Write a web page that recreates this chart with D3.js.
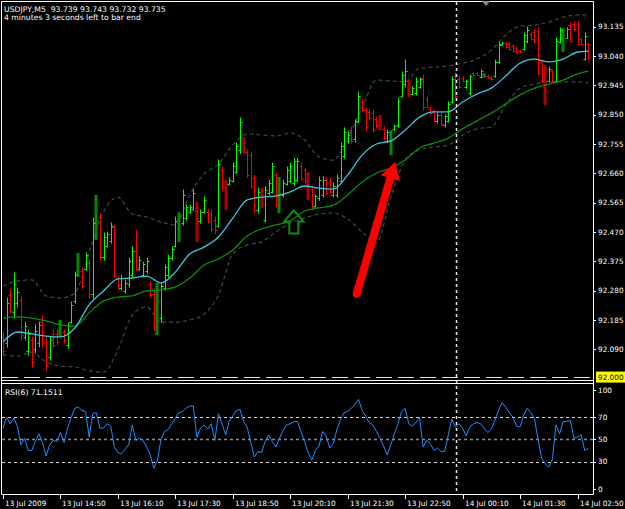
<!DOCTYPE html>
<html>
<head>
<meta charset="utf-8">
<script src="https://cdn.jsdelivr.net/npm/d3@7"></script>
<style>
body{margin:0;background:#000;}
svg{display:block;font-family:"DejaVu Sans",sans-serif;font-size:7.7px;}
.axis text{font-size:7.3px;}
</style>
</head>
<body>
<div id="chart"></div>
<script>
// USDJPY M5 bars, 13 Jul 13:30 -> 14 Jul 03:05
var high = [
92.146,92.256,92.282,92.337,92.288,92.259,92.178,92.152,92.130,92.169,
92.178,92.198,92.130,92.130,92.152,92.152,92.185,92.152,92.175,92.243,
92.340,92.402,92.353,92.402,92.379,92.515,92.590,92.531,92.466,92.470,
92.499,92.492,92.324,92.330,92.314,92.385,92.421,92.476,92.389,92.372,
92.385,92.308,92.282,92.305,92.305,92.363,92.395,92.421,92.518,92.534,
92.606,92.557,92.557,92.606,92.567,92.541,92.583,92.541,92.541,92.518,
92.703,92.680,92.638,92.645,92.693,92.758,92.839,92.778,92.735,92.729,
92.654,92.612,92.612,92.616,92.638,92.693,92.661,92.648,92.638,92.680,
92.693,92.709,92.709,92.693,92.677,92.664,92.616,92.590,92.648,92.648,
92.645,92.645,92.629,92.654,92.758,92.807,92.794,92.810,92.833,92.923,
92.897,92.872,92.865,92.865,92.842,92.849,92.810,92.800,92.800,92.816,
92.904,92.988,93.027,92.962,92.940,92.969,92.969,92.978,92.907,92.875,
92.865,92.855,92.859,92.849,92.891,92.972,92.985,92.972,92.972,92.962,
92.978,92.985,92.985,92.995,92.985,92.978,92.972,93.027,93.085,93.085,
93.085,93.085,93.076,93.069,93.059,93.114,93.134,93.114,93.124,93.131,
93.027,93.011,93.004,92.995,93.098,93.131,93.131,93.131,93.147,93.150,
93.150,93.098,93.114,93.082];
var low = [
92.071,92.097,92.208,92.191,92.227,92.120,92.120,92.071,92.032,92.078,
92.097,92.097,92.023,92.055,92.097,92.104,92.130,92.110,92.094,92.175,
92.240,92.324,92.288,92.346,92.256,92.256,92.444,92.379,92.379,92.421,
92.434,92.324,92.282,92.282,92.272,92.292,92.324,92.346,92.346,92.324,
92.337,92.259,92.152,92.136,92.178,92.282,92.324,92.379,92.421,92.437,
92.492,92.508,92.531,92.541,92.437,92.499,92.531,92.499,92.470,92.466,
92.486,92.606,92.541,92.622,92.632,92.661,92.725,92.725,92.648,92.612,
92.531,92.531,92.547,92.502,92.590,92.596,92.551,92.531,92.583,92.622,
92.629,92.622,92.632,92.638,92.629,92.573,92.541,92.551,92.573,92.583,
92.590,92.596,92.583,92.583,92.629,92.709,92.758,92.758,92.761,92.826,
92.859,92.800,92.833,92.794,92.807,92.800,92.768,92.761,92.719,92.800,
92.810,92.907,92.940,92.907,92.914,92.914,92.936,92.865,92.872,92.849,
92.826,92.823,92.816,92.810,92.826,92.888,92.904,92.936,92.956,92.936,
92.914,92.978,92.978,92.969,92.969,92.969,92.962,92.972,93.017,93.076,
93.066,93.059,93.053,93.050,93.050,93.059,93.082,93.092,93.082,92.978,
92.953,92.881,92.956,92.953,92.956,93.082,93.053,93.098,93.085,93.124,
93.076,93.076,93.027,93.027];
var open = [
92.130,92.110,92.265,92.210,92.240,92.250,92.130,92.085,92.120,92.090,
92.110,92.180,92.115,92.065,92.140,92.140,92.135,92.145,92.105,92.180,
92.245,92.330,92.345,92.350,92.370,92.270,92.460,92.520,92.390,92.425,
92.440,92.485,92.320,92.290,92.280,92.300,92.330,92.410,92.350,92.330,
92.345,92.300,92.270,92.160,92.190,92.290,92.330,92.385,92.425,92.445,
92.500,92.515,92.535,92.545,92.560,92.505,92.535,92.535,92.530,92.510,
92.490,92.670,92.630,92.625,92.635,92.665,92.735,92.775,92.730,92.720,
92.645,92.540,92.605,92.510,92.595,92.600,92.655,92.540,92.590,92.625,
92.635,92.630,92.640,92.685,92.670,92.660,92.610,92.555,92.580,92.590,
92.640,92.635,92.590,92.590,92.635,92.715,92.765,92.800,92.770,92.830,
92.890,92.865,92.860,92.855,92.835,92.845,92.805,92.765,92.725,92.802,
92.815,92.910,92.950,92.955,92.918,92.920,92.940,92.970,92.900,92.870,
92.860,92.828,92.850,92.815,92.830,92.890,92.975,92.965,92.968,92.940,
92.920,92.984,92.984,92.972,92.970,92.976,92.970,92.975,93.020,93.077,
93.082,93.080,93.072,93.066,93.057,93.062,93.090,93.110,93.118,93.120,
93.020,93.005,92.960,92.990,92.960,93.085,93.060,93.100,93.140,93.145,
93.145,93.095,93.030,93.078];
var close = [
92.085,92.240,92.215,92.300,92.275,92.135,92.165,92.140,92.050,92.150,
92.170,92.110,92.040,92.120,92.105,92.115,92.175,92.120,92.165,92.235,
92.330,92.390,92.295,92.395,92.270,92.500,92.570,92.390,92.455,92.465,
92.490,92.330,92.290,92.320,92.305,92.375,92.410,92.355,92.380,92.365,
92.375,92.265,92.165,92.290,92.295,92.355,92.385,92.415,92.505,92.525,
92.590,92.550,92.550,92.595,92.450,92.535,92.575,92.505,92.480,92.475,
92.690,92.615,92.550,92.640,92.685,92.750,92.825,92.730,92.655,92.620,
92.540,92.600,92.555,92.605,92.630,92.685,92.560,92.640,92.630,92.670,
92.685,92.700,92.700,92.645,92.635,92.580,92.550,92.585,92.640,92.640,
92.595,92.600,92.620,92.645,92.750,92.795,92.785,92.765,92.825,92.910,
92.865,92.810,92.840,92.800,92.815,92.805,92.775,92.795,92.795,92.812,
92.895,92.980,92.990,92.915,92.935,92.960,92.965,92.875,92.875,92.855,
92.830,92.850,92.820,92.845,92.885,92.965,92.910,92.940,92.960,92.958,
92.975,92.980,92.979,92.990,92.982,92.971,92.964,93.020,93.080,93.083,
93.068,93.062,93.056,93.053,93.052,93.108,93.125,93.095,93.088,92.985,
92.960,92.890,92.998,92.958,93.090,93.125,93.125,93.128,93.090,93.128,
93.080,93.080,93.105,93.035];
// bars drawn thick in darker colour
var heavyBars = [16,21,26,43,49,54,62,67,72,77,85,105,108,113,134,151,156];

// indicator lines, one value every 4 bars
var lineBars = [0,4,8,12,16,20,24,28,32,36,40,44,48,52,56,60,64,68,72,76,80,84,88,92,96,100,104,108,112,116,120,124,128,132,136,140,144,148,152,156,160,163];
var maFast = [92.114,92.146,92.140,92.133,92.130,92.159,92.234,92.279,92.318,92.321,92.327,92.305,92.340,92.399,92.421,92.454,92.515,92.574,92.583,92.587,92.600,92.619,92.612,92.609,92.655,92.719,92.755,92.765,92.800,92.842,92.859,92.859,92.891,92.917,92.936,92.975,93.017,93.030,93.021,93.030,93.053,93.056];
var maSlow = [92.191,92.195,92.191,92.182,92.169,92.165,92.208,92.247,92.259,92.263,92.279,92.282,92.292,92.321,92.363,92.383,92.412,92.457,92.480,92.493,92.506,92.538,92.548,92.557,92.590,92.632,92.661,92.677,92.703,92.742,92.758,92.774,92.804,92.830,92.855,92.885,92.914,92.936,92.949,92.962,92.982,92.991];
var bandUp = [92.295,92.311,92.315,92.263,92.256,92.272,92.405,92.535,92.583,92.528,92.519,92.502,92.493,92.590,92.658,92.690,92.752,92.787,92.784,92.781,92.791,92.768,92.713,92.703,92.774,92.872,92.962,92.959,92.956,93.001,93.004,93.008,93.017,93.030,93.059,93.108,93.137,93.140,93.150,93.166,93.173,93.173];
var bandDn = [92.072,92.068,92.081,92.049,92.036,92.033,92.020,92.016,92.088,92.201,92.227,92.178,92.178,92.185,92.204,92.266,92.399,92.428,92.438,92.470,92.499,92.515,92.528,92.532,92.512,92.470,92.434,92.583,92.703,92.736,92.745,92.752,92.784,92.804,92.810,92.881,92.936,92.949,92.956,92.956,92.956,92.953];

var rsi = [
60,70,64,69,62,45,51,40,40,48, 55,47,35,45,49,48,56,47,60,70,
78,79,76,75,52,73,74,60,60,64, 62,43,38,37,41,45,63,49,51,49,
43,36,24,31,50,57,59,64,69,74, 75,78,80,80,52,60,63,59,64,49,
73,64,54,66,71,76,77,66,61,47, 34,39,38,48,54,48,43,51,58,63,
64,66,66,57,48,38,31,40,44,57, 53,42,46,59,68,74,75,78,81,86,
76,71,65,63,57,51,44,36,45,55, 64,75,78,64,62,65,70,43,49,46,
40,42,39,39,54,68,61,64,60,53, 61,64,65,64,60,56,59,67,76,83,
79,74,70,62,61,72,78,74,69,50, 33,28,25,32,63,55,66,66,67,51,
52,54,40,42];

var priceTicks = [93.135,93.040,92.945,92.850,92.755,92.660,92.565,92.470,92.375,92.280,92.185,92.090];
var rsiTicks = [100,70,50,30,0];
var rsiLevels = [70,50,30];
var timeBars = [0,16,32,48,64,80,96,112,128,144,160];
var timeLabels = ["13 Jul 2009","13 Jul 14:50","13 Jul 16:10","13 Jul 17:30","13 Jul 18:50","13 Jul 20:10","13 Jul 21:30","13 Jul 22:50","14 Jul 00:10","14 Jul 01:30","14 Jul 02:50"];
var daySeparatorBar = 126;
var levelPrice = 92.000;
var redArrow = {bar0: 98.5, price0: 92.270, bar1: 109.2, price1: 92.697};
var greenArrow = {bar: 81, price: 92.540};

var W = 625, H = 509;
var svg = d3.select("#chart").append("svg").attr("width", W).attr("height", H);
svg.append("rect").attr("width", W).attr("height", H).attr("fill", "#000");

var x = d3.scaleLinear().domain([0, 163]).range([3, 588.3]);
var y = d3.scaleLinear().domain([92.090, 93.135]).range([349.3, 26.7]);
var yr = d3.scaleLinear().domain([0, 100]).range([494.8, 383.8]);
var fmt = d3.format(".3f");
function px(i) { return Math.round(x(i)) + 0.5; }
function py(p) { return Math.round(y(p)) + 0.5; }

svg.append("clipPath").attr("id", "mainclip").append("rect")
    .attr("x", 2).attr("y", 2).attr("width", 591).attr("height", 378);
svg.append("clipPath").attr("id", "rsiclip").append("rect")
    .attr("x", 2).attr("y", 384).attr("width", 591).attr("height", 110);

var main = svg.append("g").attr("clip-path", "url(#mainclip)");

// bands
function lineOf(vals) {
    return d3.line()
        .x(function(d, k) { return x(lineBars[k]); })
        .y(function(d) { return y(d); })
        .curve(d3.curveMonotoneX)(vals);
}
[bandUp, bandDn].forEach(function(b) {
    main.append("path").attr("d", lineOf(b))
        .attr("fill", "none").attr("stroke", "#2f4f4f")
        .attr("stroke-width", 1.2).attr("stroke-dasharray", "4,3");
});

// price level line
main.append("line")
    .attr("x1", 2).attr("x2", 593)
    .attr("y1", py(levelPrice)).attr("y2", py(levelPrice))
    .attr("stroke", "#ffff00").attr("stroke-dasharray", "16,6");

// bars
var idx = d3.range(high.length);
var heavySet = new Set(heavyBars);
var thin = idx.filter(function(i) { return !heavySet.has(i); });
var thick = idx.filter(function(i) { return heavySet.has(i); });

main.selectAll(".hbar").data(thick).enter().append("line")
    .attr("class", "hbar")
    .attr("x1", function(i) { return Math.round(x(i)); })
    .attr("x2", function(i) { return Math.round(x(i)); })
    .attr("y1", function(i) { return y(high[i]); })
    .attr("y2", function(i) { return y(low[i]); })
    .attr("stroke", function(i) { return close[i] >= open[i] ? "#008a00" : "#b00000"; })
    .attr("stroke-width", 3);

var tb = main.selectAll(".bar").data(thin).enter().append("g").attr("class", "bar")
    .attr("stroke", function(i) { return close[i] >= open[i] ? "#00ff00" : "#ff0000"; });
tb.append("line")
    .attr("x1", px).attr("x2", px)
    .attr("y1", function(i) { return y(high[i]) - 0.5; })
    .attr("y2", function(i) { return y(low[i]) + 0.5; });
tb.append("line")
    .attr("x1", function(i) { return px(i) - 2; }).attr("x2", px)
    .attr("y1", function(i) { return py(open[i]); })
    .attr("y2", function(i) { return py(open[i]); });
tb.append("line")
    .attr("x1", px).attr("x2", function(i) { return px(i) + 2; })
    .attr("y1", function(i) { return py(close[i]); })
    .attr("y2", function(i) { return py(close[i]); });

// moving averages
main.append("path").attr("d", lineOf(maSlow))
    .attr("fill", "none").attr("stroke", "#0c8a0c").attr("stroke-width", 1.3);
main.append("path").attr("d", lineOf(maFast))
    .attr("fill", "none").attr("stroke", "#3cc8dc").attr("stroke-width", 1.3);

// hollow up arrow
var ga = main.append("g")
    .attr("transform", "translate(" + x(greenArrow.bar) + "," + y(greenArrow.price) + ")");
ga.append("path")
    .attr("d", "M0,0L9.5,11L4.5,11L4.5,23L-4.5,23L-4.5,11L-9.5,11Z")
    .attr("fill", "none").attr("stroke", "#118c11").attr("stroke-width", 2)
    .attr("stroke-linejoin", "miter");

// red arrow
var ax0 = x(redArrow.bar0), ay0 = y(redArrow.price0);
var ax1 = x(redArrow.bar1), ay1 = y(redArrow.price1);
var len = Math.hypot(ax1 - ax0, ay1 - ay0);
var ux = (ax1 - ax0) / len, uy = (ay1 - ay0) / len;
var nx = -uy, ny = ux;
var sw = 4, hw = 10, hl = 17;
var bx = ax1 - ux * hl, by = ay1 - uy * hl;
var pts = [
    [ax0 + nx * sw, ay0 + ny * sw], [bx + nx * sw, by + ny * sw], [bx + nx * hw, by + ny * hw],
    [ax1, ay1],
    [bx - nx * hw, by - ny * hw], [bx - nx * sw, by - ny * sw], [ax0 - nx * sw, ay0 - ny * sw]
];
main.append("path").attr("d", "M" + pts.join("L") + "Z").attr("fill", "#ff0000");
main.append("circle").attr("cx", ax0).attr("cy", ay0).attr("r", sw).attr("fill", "#ff0000");

// RSI panel
var sub = svg.append("g").attr("clip-path", "url(#rsiclip)");
sub.selectAll(".lvl").data(rsiLevels).enter().append("line")
    .attr("x1", 2).attr("x2", 593)
    .attr("y1", function(d) { return Math.round(yr(d)) + 0.5; })
    .attr("y2", function(d) { return Math.round(yr(d)) + 0.5; })
    .attr("stroke", function(d) { return d == 50 ? "#8c8c8c" : "#d8d8d8"; })
    .attr("stroke-width", function(d) { return d == 50 ? 1.6 : 1; })
    .attr("stroke-dasharray", "3,3");
sub.append("path")
    .attr("d", d3.line().x(function(d, i) { return x(i); }).y(function(d) { return yr(d); })(rsi))
    .attr("fill", "none").attr("stroke", "#1e90ff").attr("stroke-width", 1);

// day separator
svg.append("line")
    .attr("x1", px(daySeparatorBar) + 1).attr("x2", px(daySeparatorBar) + 1)
    .attr("y1", 2).attr("y2", 494)
    .attr("stroke", "#e8e8e8").attr("stroke-width", 1.5).attr("stroke-dasharray", "3,3");

// frames
svg.append("path")
    .attr("d", "M1.5,494.5L1.5,1.5L593.5,1.5L593.5,494.5L1.5,494.5M1.5,380.5L593.5,380.5M1.5,383.5L593.5,383.5")
    .attr("fill", "none").attr("stroke", "#ffffff").attr("stroke-width", 1);
svg.append("path").attr("d", "M482,1L490,1L486,6Z").attr("fill", "#8a8a8a");

// price axis
var pa = svg.append("g").attr("class", "axis");
pa.selectAll(".pt").data(priceTicks).enter().append("line")
    .attr("x1", 593).attr("x2", 596)
    .attr("y1", py).attr("y2", py)
    .attr("stroke", "#fff");
pa.selectAll(".pl").data(priceTicks).enter().append("text")
    .attr("x", 598).attr("y", function(d) { return y(d) + 2.6; })
    .attr("fill", "#fff")
    .text(fmt);
pa.append("rect").attr("x", 596).attr("y", y(levelPrice) - 5.5)
    .attr("width", 29).attr("height", 11).attr("fill", "#ffff00");
pa.append("text").attr("x", 598).attr("y", y(levelPrice) + 2.6)
    .attr("fill", "#000").text(fmt(levelPrice));

// rsi axis
var ra = svg.append("g").attr("class", "axis");
ra.selectAll(".rl").data(rsiTicks).enter().append("text")
    .attr("x", 598)
    .attr("y", function(d) { return Math.min(Math.max(yr(d), 390), 489) + 2.6; })
    .attr("fill", "#fff")
    .text(function(d) { return d; });
ra.selectAll(".rt").data(rsiTicks).enter().append("line")
    .attr("x1", 593).attr("x2", 596)
    .attr("y1", function(d) { return Math.round(Math.min(Math.max(yr(d), 390), 489)) + 0.5; })
    .attr("y2", function(d) { return Math.round(Math.min(Math.max(yr(d), 390), 489)) + 0.5; })
    .attr("stroke", "#fff");

// time axis
var ta = svg.append("g").attr("class", "axis");
ta.selectAll(".tt").data(timeBars).enter().append("line")
    .attr("x1", px).attr("x2", px)
    .attr("y1", 494).attr("y2", 499)
    .attr("stroke", "#fff");
ta.selectAll(".tl").data(timeBars).enter().append("text")
    .attr("x", function(d) { return px(d) + 1.5; })
    .attr("y", 506)
    .attr("fill", "#fff")
    .text(function(d, k) { return timeLabels[k]; });

// titles
svg.append("text").attr("x", 4).attr("y", 11.5).attr("fill", "#fff")
    .style("white-space", "pre").text("USDJPY,M5  93.739 93.743 93.732 93.735");
svg.append("text").attr("x", 4).attr("y", 20).attr("fill", "#fff")
    .text("4 minutes 3 seconds left to bar end");
svg.append("text").attr("x", 5).attr("y", 395).attr("fill", "#fff")
    .text("RSI(6) 71.1511");
</script>
</body>
</html>
